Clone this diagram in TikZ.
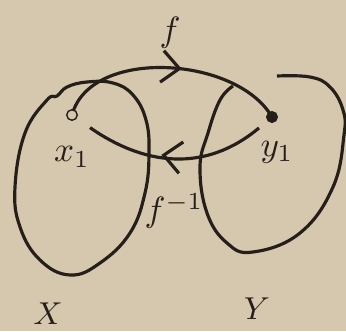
\documentclass[tikz,border=0pt]{standalone}
\usetikzlibrary{arrows.meta,decorations.markings}
\usepackage{tkz-euclide}
\definecolor{PaperClr}{RGB}{214,199,175}
\definecolor{InkClr}{RGB}{38,30,24}

\tikzset{
  setline/.style={InkClr,line width=0.9pt},
  mapline/.style={InkClr,line width=0.9pt,postaction={decorate},
    decoration={markings,mark=at position #1 with
      {\arrow{Straight Barb[length=5pt,width=9pt,line width=0.9pt]}}}},
  lbl/.style={text=InkClr,inner sep=1pt}
}

\begin{document}
\begin{tikzpicture}
\fill[PaperClr] (0,0) rectangle (3.46,3.31);
\useasboundingbox (0,0) rectangle (3.46,3.31);
\tkzSetUpLine[line width=0.9pt,color=InkClr]
\tkzSetUpPoint[color=InkClr,fill=InkClr]

\tkzDefPoints{0.72/2.16/x1,2.72/2.14/y1}

% the sets X and Y
\draw[setline] plot[smooth cycle,tension=0.7] coordinates{(0.47,2.31) (0.25,1.98) (0.15,1.44) (0.20,1.04) (0.40,0.71) (0.70,0.56) (1.00,0.68) (1.30,0.98) (1.45,1.38) (1.49,1.78) (1.46,2.11) (1.33,2.36) (1.13,2.48) (0.87,2.49) (0.67,2.44) (0.57,2.35)};
\draw[setline] plot[smooth,tension=0.7] coordinates{(2.33,2.45) (2.20,2.31) (2.08,1.98) (2.00,1.64) (2.07,1.18) (2.27,0.88) (2.53,0.79) (3.00,0.98) (3.33,1.44) (3.44,1.96) (3.43,2.21) (3.30,2.44) (3.10,2.54) (2.77,2.55)};

% f and its inverse
\draw[mapline=0.55] (x1) to[out=75,in=120,looseness=0.9] (y1);
\draw[mapline=0.55,shorten <=0.17cm,shorten >=0.22cm] (y1) to[out=220,in=-35,looseness=1.12] (x1);

\tkzDrawPoint[fill=PaperClr,size=3](x1)
\tkzDrawPoint[size=3](y1)

\node[lbl] (lx1) at (0.72,1.74) {$x_1$};
\node[lbl] (ly1) at (2.77,1.79) {$y_1$};
\node[lbl] (lf) at (1.70,2.98) {$f$};
\node[lbl] (lfinv) at (1.74,1.20) {$f^{-1}$};
\node[lbl,font=\small] (lX) at (0.48,0.17) {$X$};
\node[lbl,font=\small] (lY) at (2.57,0.22) {$Y$};

\end{tikzpicture}
\end{document}
